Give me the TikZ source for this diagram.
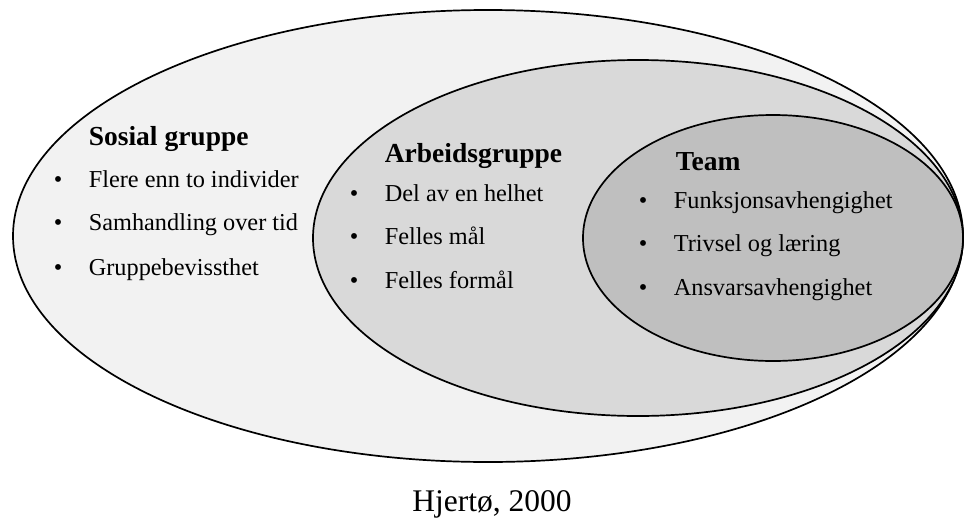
\documentclass[tikz,border=0pt]{standalone}
\usepackage{fontspec}
\setmainfont{Liberation Serif}
\usepackage{xcolor}
\usepackage{tikz}
\definecolor{fillsosial}{HTML}{F2F2F2}
\definecolor{fillarbeid}{HTML}{D9D9D9}
\definecolor{fillteam}{HTML}{BFBFBF}
\newcommand{\punkt}{\makebox[35pt][l]{\textbullet}}

\begin{document}
\begin{tikzpicture}[x=1pt, y=-1pt, line width=1.7pt,
    ring/.style={draw=black},
    head/.style={anchor=base west, inner sep=0pt, font=\fontsize{27.5}{30}\selectfont\bfseries},
    item/.style={anchor=base west, inner sep=0pt, font=\fontsize{24.3}{28}\selectfont}]

  \useasboundingbox (0,0) rectangle (964,517);

  % -- the three groups, each one inside the last ---------------------------
  \draw[ring, fill=fillsosial] (488,236) ellipse [x radius=475, y radius=226];
  \draw[ring, fill=fillarbeid] (638,238) ellipse [x radius=325, y radius=178];
  \draw[ring, fill=fillteam]   (773,238) ellipse [x radius=190, y radius=123];

  % -- sosial gruppe ---------------------------------------------------------
  \node[head] (sosial) at (88,145) {Sosial gruppe};
  \node[item] (sosial1) at (53,187) {\punkt Flere enn to individer};
  \node[item] (sosial2) at (53,230) {\punkt Samhandling over tid};
  \node[item] (sosial3) at (53,275) {\punkt Gruppebevissthet};

  % -- arbeidsgruppe ---------------------------------------------------------
  \node[head] (arbeid) at (384,162) {Arbeidsgruppe};
  \node[item] (arbeid1) at (349,201) {\punkt Del av en helhet};
  \node[item] (arbeid2) at (349,244) {\punkt Felles mål};
  \node[item] (arbeid3) at (349,288) {\punkt Felles formål};

  % -- team ------------------------------------------------------------------
  \node[head] (team) at (675,170) {Team};
  \node[item] (team1) at (638,208) {\punkt Funksjonsavhengighet};
  \node[item] (team2) at (638,251) {\punkt Trivsel og læring};
  \node[item] (team3) at (638,295) {\punkt Ansvarsavhengighet};

  % -- source ----------------------------------------------------------------
  \node[anchor=base, inner sep=0pt, font=\fontsize{31.5}{36}\selectfont] (kilde) at (492,511) {Hjertø, 2000};

\end{tikzpicture}
\end{document}
